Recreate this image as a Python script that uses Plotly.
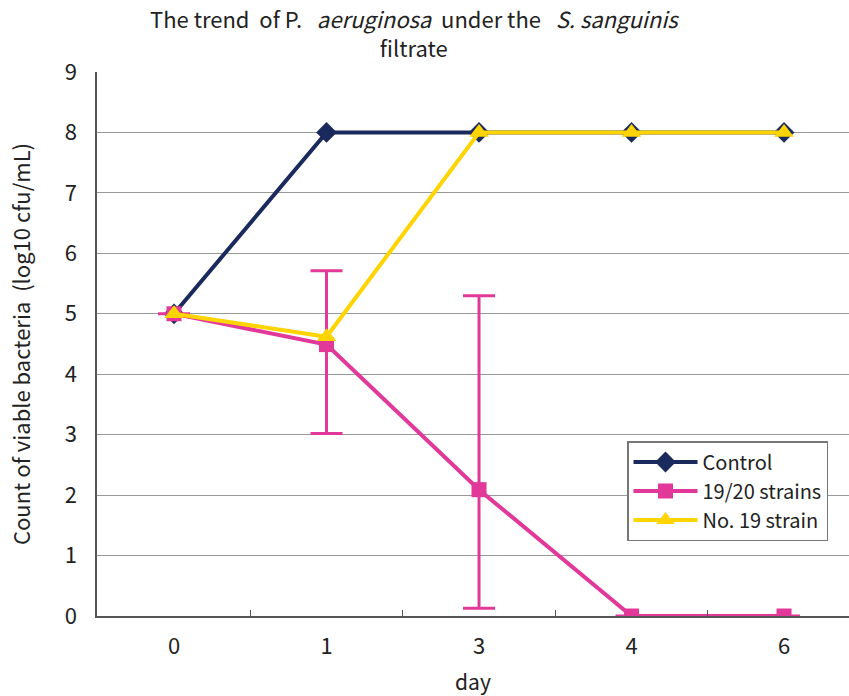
import plotly.graph_objects as go

days = ["0", "1", "3", "4", "6"]
control = [5, 8, 8, 8, 8]
strains_1920 = [5, 4.49, 2.09, 0, 0]
err_plus = [0, 1.22, 3.21, 0, 0]
err_minus = [0, 1.47, 1.96, 0, 0]
no19 = [5, 4.62, 8, 8, 8]

FONT = "Noto Sans CJK JP, Noto Sans, sans-serif"
NAVY = "#1B2A5C"
PINK = "#E2389A"
YELLOW = "#FFD400"

L, R, T, B = 97, 0, 72, 80
W, H = 849, 696
plot_w = W - L - R
plot_h = H - T - B

fig = go.Figure()
fig.add_trace(go.Scatter(
    x=days, y=control, name="Control", mode="lines+markers",
    line=dict(color=NAVY, width=4),
    marker=dict(symbol="diamond", size=16, color=NAVY),
))
fig.add_trace(go.Scatter(
    x=days, y=strains_1920, name="19/20 strains", mode="lines+markers",
    line=dict(color=PINK, width=4),
    marker=dict(symbol="square", size=15, color=PINK),
    error_y=dict(type="data", symmetric=False, array=err_plus, arrayminus=err_minus,
                 color=PINK, thickness=3, width=16),
))
fig.add_trace(go.Scatter(
    x=days, y=no19, name="No. 19 strain", mode="lines+markers",
    line=dict(color=YELLOW, width=4),
    marker=dict(symbol="triangle-up", size=17, color=YELLOW),
))

fig.update_layout(
    width=W, height=H,
    margin=dict(l=L, r=R, t=T, b=B, autoexpand=False),
    paper_bgcolor="white", plot_bgcolor="white",
    font=dict(family=FONT, size=21, color="#222"),
    legend=dict(
        x=(627 - L) / plot_w, y=(H - B - 441) / plot_h,
        xanchor="left", yanchor="top",
        bgcolor="white", bordercolor="#777", borderwidth=1.5,
        font=dict(family=FONT, size=20, color="#222"),
        tracegroupgap=0, itemwidth=64,
    ),
    showlegend=True,
    annotations=[dict(
        text="The trend &nbsp;of P. &nbsp;&nbsp;<i>aeruginosa</i> &nbsp;under the &nbsp;&nbsp;<i>S. sanguinis</i><br>filtrate",
        x=(414 - L) / plot_w, xref="paper", xanchor="center",
        y=(H - B - 33) / plot_h, yref="paper", yanchor="middle",
        showarrow=False, align="center",
        font=dict(family=FONT, size=22, color="#222"),
    )],
)

fig.update_xaxes(
    type="category", categoryorder="array", categoryarray=days,
    range=[-0.505, 4.426], automargin=False,
    showline=True, linecolor="#555", linewidth=1.5,
    ticks="inside", tickson="boundaries", ticklen=6, tickcolor="#555",
    showgrid=False, ticklabelstandoff=10,
    title=dict(text="day", standoff=20, font=dict(family=FONT, size=21)),
    tickfont=dict(family=FONT, size=22),
)
fig.update_yaxes(
    range=[0, 9], dtick=1, automargin=False,
    showline=True, linecolor="#555", linewidth=1.5,
    showgrid=True, gridcolor="#999", gridwidth=1.2,
    zeroline=False, ticks="", ticklabelstandoff=14,
    title=dict(text="Count of viable bacteria &nbsp;(log10 cfu/mL)", standoff=28,
               font=dict(family=FONT, size=22)),
    tickfont=dict(family=FONT, size=22),
)

fig.write_html("out.html", config={"displayModeBar": False},
               post_script="document.body.style.margin='0px';")
